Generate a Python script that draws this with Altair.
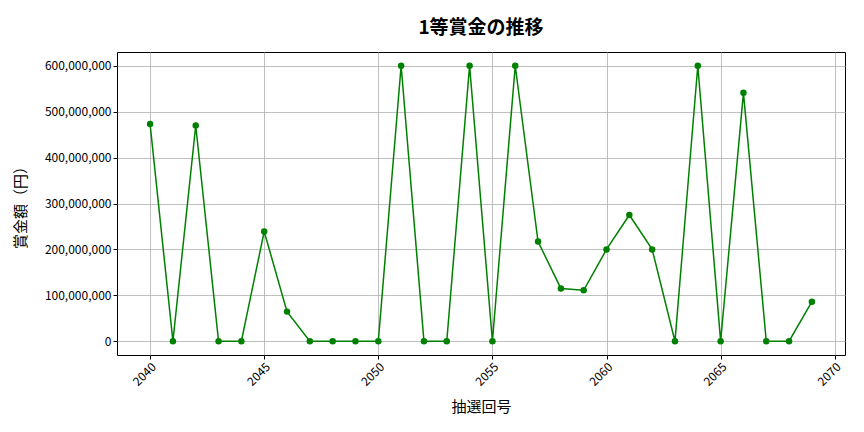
import altair as alt
import pandas as pd

draws = list(range(2040, 2070))
prizes = [
    473000000, 0, 470000000, 0, 0, 239000000, 64500000, 0, 0, 0,
    0, 600000000, 0, 0, 600000000, 0, 600000000, 217000000, 115000000, 111000000,
    200000000, 275000000, 200000000, 0, 600000000, 0, 541000000, 0, 0, 86000000,
]
x_ticks = [2040, 2045, 2050, 2055, 2060, 2065, 2070]
y_ticks = [0, 100000000, 200000000, 300000000, 400000000, 500000000, 600000000]

df = pd.DataFrame({"draw": draws, "prize": prizes})

FONT = "Noto Sans CJK JP"

base = alt.Chart(df).encode(
    x=alt.X(
        "draw:Q",
        title="抽選回号",
        scale=alt.Scale(domain=[2038.55, 2070.45], nice=False, zero=False),
        axis=alt.Axis(values=x_ticks, format="d", labelAngle=315, labelAlign="right",
                      labelBaseline="top", titlePadding=12),
    ),
    y=alt.Y(
        "prize:Q",
        title="賞金額（円）",
        scale=alt.Scale(domain=[-30000000, 630000000], nice=False, zero=False),
        axis=alt.Axis(values=y_ticks, format=",d", titlePadding=16),
    ),
)

line = base.mark_line(color="green", strokeWidth=1.5)
points = base.mark_circle(color="green", size=42, opacity=1)

chart = (
    alt.layer(line, points)
    .properties(
        width=728,
        height=303,
        title="1等賞金の推移",
        autosize=alt.AutoSizeParams(type="none"),
        padding={"left": 109, "top": 44, "right": 11, "bottom": 60},
    )
    .configure_view(stroke="black", strokeWidth=1)
    .configure_axis(
        labelFont=FONT,
        titleFont=FONT,
        labelFontSize=12,
        titleFontSize=15,
        titleFontWeight="normal",
        labelColor="black",
        titleColor="black",
        gridColor="#b0b0b0",
        gridWidth=0.8,
        domain=False,
        tickColor="black",
        tickSize=4,
    )
    .configure_title(font=FONT, fontSize=19, fontWeight="bold", anchor="middle", offset=14, color="black")
)

chart.save("out.html", embed_options={"renderer": "svg", "actions": False})
